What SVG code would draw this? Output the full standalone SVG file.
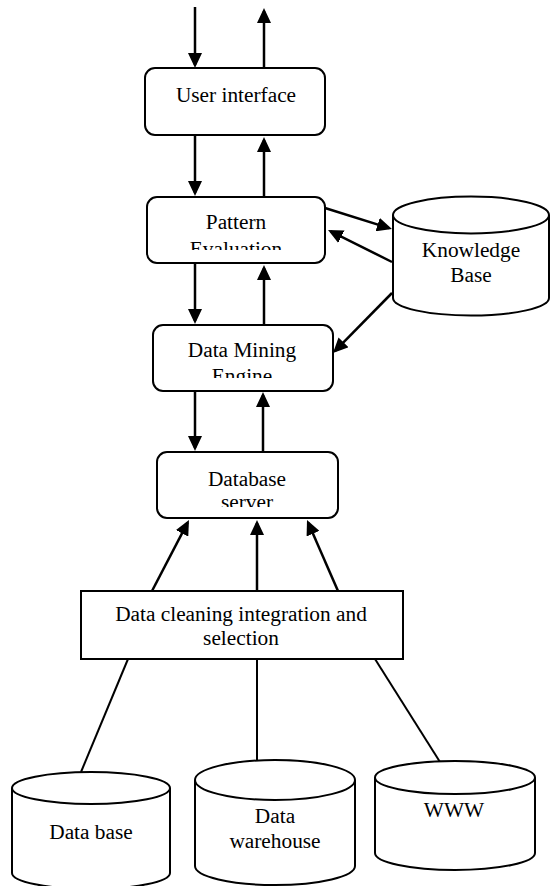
<svg xmlns="http://www.w3.org/2000/svg" width="550" height="886" viewBox="0 0 550 886">
<style>
.box{fill:#fff;stroke:#000;stroke-width:2}
.cyl{fill:#fff;stroke:#000;stroke-width:2}
.t{font-family:"Liberation Serif","Times New Roman",serif;font-size:21.33px;fill:#000;text-anchor:middle}
.arr{stroke:#000;stroke-width:2.5;fill:none;marker-end:url(#ah)}
.ln{stroke:#000;stroke-width:2;fill:none}
</style>
<defs>
<marker id="ah" markerUnits="userSpaceOnUse" markerWidth="15" markerHeight="14" refX="12" refY="7" orient="auto">
<path d="M0,0 L15,7 L0,14 Z" fill="#000"/>
</marker>
<clipPath id="cpPE"><rect x="147" y="197" width="178" height="53"/></clipPath>
<clipPath id="cpDM"><rect x="153" y="325" width="180" height="53"/></clipPath>
<clipPath id="cpDS"><rect x="157" y="452" width="181" height="55"/></clipPath>
</defs>
<g id="connectors">
<line class="arr" x1="195" y1="7" x2="195" y2="65"/>
<line class="arr" x1="264" y1="68" x2="264" y2="11"/>
<line class="arr" x1="195" y1="135" x2="195" y2="193"/>
<line class="arr" x1="264" y1="197" x2="264" y2="140"/>
<line class="arr" x1="195" y1="263" x2="195" y2="321"/>
<line class="arr" x1="264" y1="325" x2="264" y2="268"/>
<line class="arr" x1="195" y1="391" x2="195" y2="448"/>
<line class="arr" x1="263" y1="452" x2="263" y2="395"/>
<line class="arr" x1="325" y1="208" x2="389.1" y2="228.1"/>
<line class="arr" x1="392" y1="262" x2="330.7" y2="231.3"/>
<line class="arr" x1="392" y1="293" x2="335.1" y2="350.9"/>
<line class="arr" x1="152" y1="591" x2="187.6" y2="522.7"/>
<line class="arr" x1="257" y1="591" x2="257" y2="523"/>
<line class="arr" x1="338" y1="591" x2="308.2" y2="522.7"/>
<line class="ln" x1="128" y1="659" x2="81" y2="772"/>
<line class="ln" x1="257" y1="659" x2="257" y2="760"/>
<line class="ln" x1="375" y1="659" x2="440" y2="762"/>
</g>
<g id="user-interface">
<rect class="box" x="145" y="68" width="180" height="67" rx="10"/>
<text class="t" x="236" y="102">User interface</text>
</g>
<g id="pattern-evaluation">
<rect class="box" x="147" y="197" width="178" height="66" rx="10"/>
<g clip-path="url(#cpPE)">
<text class="t" x="236" y="229">Pattern</text>
<text class="t" x="236" y="256">Evaluation</text>
</g>
</g>
<g id="data-mining-engine">
<rect class="box" x="153" y="325" width="180" height="66" rx="10"/>
<g clip-path="url(#cpDM)">
<text class="t" x="242" y="357">Data Mining</text>
<text class="t" x="242" y="383">Engine</text>
</g>
</g>
<g id="database-server">
<rect class="box" x="157" y="452" width="181" height="66" rx="10"/>
<g clip-path="url(#cpDS)">
<text class="t" x="247" y="486">Database</text>
<text class="t" x="247" y="509">server</text>
</g>
</g>
<g id="data-cleaning">
<rect class="box" x="81" y="591" width="322" height="68"/>
<text class="t" x="241" y="621">Data cleaning integration and</text>
<text class="t" x="241" y="645">selection</text>
</g>
<g id="knowledge-base">
<path class="cyl" d="M393,215 V298 A78,17.5 0 0 0 549,298 V215"/>
<ellipse class="cyl" cx="471" cy="215" rx="78" ry="18.5"/>
<text class="t" x="471" y="257">Knowledge</text>
<text class="t" x="471" y="282">Base</text>
</g>
<g id="data-base">
<path class="cyl" d="M12,788 V873 A79,16 0 0 0 170,873 V788"/>
<ellipse class="cyl" cx="91" cy="788" rx="79" ry="16"/>
<text class="t" x="91" y="839">Data base</text>
</g>
<g id="data-warehouse">
<path class="cyl" d="M195,780 V866 A80,19 0 0 0 355,866 V780"/>
<ellipse class="cyl" cx="275" cy="780" rx="80" ry="20"/>
<text class="t" x="275" y="823">Data</text>
<text class="t" x="275" y="848">warehouse</text>
</g>
<g id="www">
<path class="cyl" d="M375,777.5 V853 A80,17 0 0 0 535,853 V777.5"/>
<ellipse class="cyl" cx="455" cy="777.5" rx="80" ry="16.5"/>
<text class="t" x="454" y="817">WWW</text>
</g>
</svg>
